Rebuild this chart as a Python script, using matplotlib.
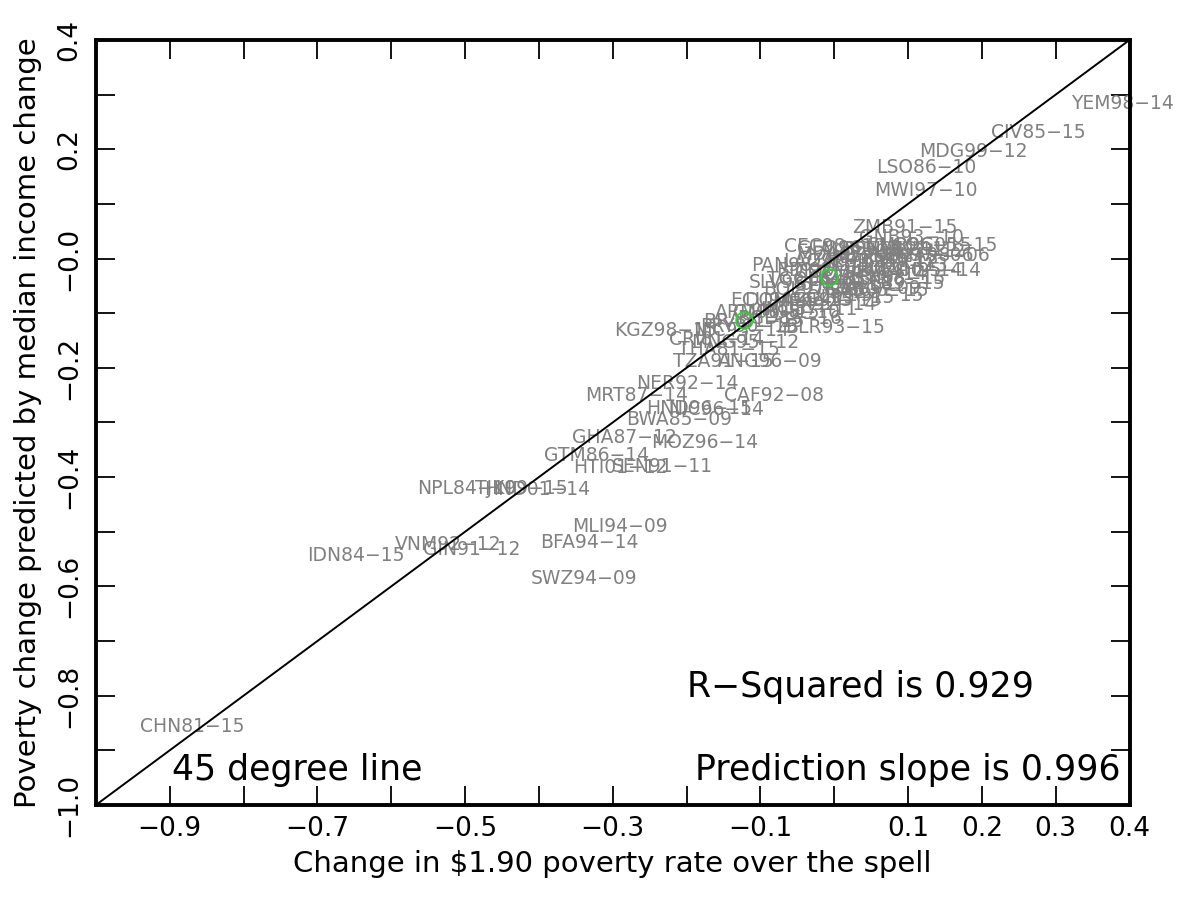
import numpy as np
import matplotlib
matplotlib.use("Agg")
import matplotlib.pyplot as plt

# spell labels and their positions (actual change, predicted change)
labels = ["YEM98-14", "CIV85-15", "MDG99-12", "LSO86-10", "MWI97-10",
          "ZMB91-15", "GNB93-10", "COG05-15", "GHA98-06", "ETH95-14",
          "PAN98-15", "SLV98-14", "ECU94-14", "ARM96-15", "BRA81-15",
          "PRY90-15", "KGZ98-15", "CRI81-14", "THA81-15", "MNG95-12",
          "NIC93-14", "BLR93-15", "GMB98-10", "AZE95-15", "GAB05-15",
          "TZA91-15", "ANG96-09", "NER92-14", "MRT87-14", "CAF92-08",
          "HND96-15", "NIC96-14", "BWA85-09", "GHA87-12", "MOZ96-14",
          "GTM86-14", "HTI01-12", "SEN91-11", "NPL84-10", "TJK99-15",
          "HND01-14", "MLI94-09", "BFA94-14", "VNM92-12", "GIN91-12",
          "IDN84-15", "SWZ94-09", "CHN81-15",
          "GEO96-15", "ALB96-12", "SEN94-11", "UGA92-12", "KEN97-06",
          "CMR96-15", "RWA00-14", "MDA97-14", "LAO92-12", "ZAF93-10",
          "KHM94-12", "DJI02-13", "BDI92-13", "COM04-14", "CMR96-14",
          "BEN03-15", "TGO06-15", "STP00-10", "NGA85-09", "PER97-15",
          "BOL97-15", "COL99-15", "DOM96-15", "MEX92-14", "IND87-11",
          "BGD85-16", "CEC98-10", "MAR90-13", "LKA85-16", "SLE89-15"]
actual = [0.390, 0.277, 0.189, 0.125, 0.124,
          0.096, 0.104, 0.150, 0.140, 0.130,
          -0.044, -0.050, -0.072, -0.090, -0.109,
          -0.115, -0.229, -0.160, -0.142, -0.121,
          -0.126, 0.001, -0.064, -0.003, 0.058,
          -0.150, -0.087, -0.199, -0.267, -0.082,
          -0.183, -0.160, -0.210, -0.284, -0.176,
          -0.322, -0.289, -0.233, -0.498, -0.424,
          -0.402, -0.290, -0.332, -0.523, -0.491,
          -0.648, -0.339, -0.870,
          0.020, 0.047, 0.081, 0.108, 0.120,
          0.115, 0.101, 0.020, 0.000, 0.033,
          0.067, 0.094, -0.014, 0.020, 0.054,
          0.081, -0.021, 0.013, 0.047, 0.054,
          -0.028, 0.013, -0.048, -0.014, -0.034,
          -0.061, 0.000, 0.070, 0.030, 0.085]
predicted = [0.283, 0.230, 0.195, 0.166, 0.125,
             0.056, 0.039, 0.023, 0.005, -0.021,
             -0.012, -0.043, -0.076, -0.098, -0.116,
             -0.125, -0.131, -0.149, -0.167, -0.153,
             -0.131, -0.126, -0.098, -0.076, -0.059,
             -0.189, -0.189, -0.228, -0.250, -0.250,
             -0.274, -0.276, -0.295, -0.328, -0.337,
             -0.360, -0.383, -0.381, -0.420, -0.420,
             -0.422, -0.491, -0.519, -0.524, -0.533,
             -0.544, -0.585, -0.857,
             0.019, 0.016, 0.016, 0.012, 0.005,
             0.023, -0.021, 0.007, -0.006, -0.006,
             -0.006, -0.012, -0.021, -0.025, -0.030,
             -0.036, -0.039, -0.048, -0.054, -0.067,
             -0.057, -0.072, -0.076, -0.085, -0.094,
             -0.109, 0.022, 0.000, -0.040, -0.045]

# highlighted spells (green circles)
hl_x = [-0.122, -0.007]
hl_y = [-0.112, -0.034]

xticks = np.round(np.arange(-1.0, 0.41, 0.1), 1)
xticklabels = ["", "\u22120.9", "", "\u22120.7", "", "\u22120.5", "", "\u22120.3",
               "", "\u22120.1", "", "0.1", "0.2", "0.3", "0.4"]
yticks = np.round(np.arange(-1.0, 0.41, 0.1), 1)
yticklabels = ["\u22121.0", "", "\u22120.8", "", "\u22120.6", "", "\u22120.4", "",
               "\u22120.2", "", "\u22120.0", "", "0.2", "", "0.4"]

r_squared = 0.929
slope = 0.996

plt.rcParams['font.family'] = ['DejaVu Sans']
fig = plt.figure(figsize=(11.84, 9), dpi=100)
ax = fig.add_axes([0.081, 0.1056, 0.873, 0.85])

for lab, xv, yv in zip(labels, actual, predicted):
    ax.text(xv, yv, lab.replace("-", "\u2212"), color="#808080", fontsize=13.5,
            ha="center", va="center", zorder=2)

ax.plot(hl_x, hl_y, 'o', mfc="none", mec="#22dd22", ms=12, mew=1.2, zorder=4)
ax.plot([-1.0, 0.4], [-1.0, 0.4], color="black", lw=1.4, zorder=3)

ax.set_xlim(-1.0, 0.4)
ax.set_ylim(-1.0, 0.4)
ax.set_xticks(xticks)
ax.set_xticklabels(xticklabels, fontsize=19)
ax.set_yticks(yticks)
ax.set_yticklabels(yticklabels, fontsize=19, rotation=90, va="center")
ax.tick_params(direction="in", length=14, width=1.3, top=True, right=True)
ax.tick_params(axis="x", pad=8)
ax.tick_params(axis="y", pad=10)
for s in ax.spines.values():
    s.set_linewidth(2.8)

ax.set_xlabel("Change in $1.90 poverty rate over the spell", fontsize=21, labelpad=6)
ax.set_ylabel("Poverty change predicted by median income change", fontsize=21, labelpad=10)

ax.text(0.0735, 0.046, "45 degree line", transform=ax.transAxes, fontsize=25,
        ha="left", va="center")
ax.text(0.991, 0.046, f"Prediction slope is {slope:.3f}", transform=ax.transAxes,
        fontsize=25, ha="right", va="center")
ax.text(0.572, 0.154, f"R\u2212Squared is {r_squared:.3f}", transform=ax.transAxes,
        fontsize=25, ha="left", va="center")

fig.savefig("out.png", dpi=100)
